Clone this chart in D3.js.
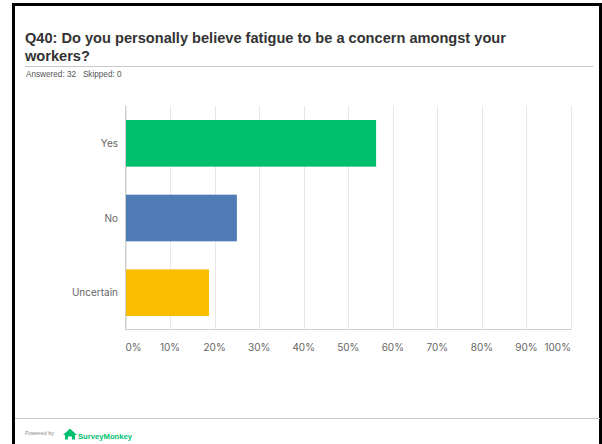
<!DOCTYPE html>
<html>
<head>
<meta charset="utf-8">
<script src="https://cdn.jsdelivr.net/npm/d3@7"></script>
<style>
  html, body { margin: 0; padding: 0; background: #fff; }
  svg { display: block; }
</style>
</head>
<body>
<script>
// Survey question results: share of respondents per answer
const categories = ["Yes", "No", "Uncertain"];
const percentValues = [56.25, 25.0, 18.75];
const barColors = ["#00BF6F", "#507CB6", "#F9BE00"];
const tickValues = [0, 10, 20, 30, 40, 50, 60, 70, 80, 90, 100];
const tickLabels = ["0%", "10%", "20%", "30%", "40%", "50%", "60%", "70%", "80%", "90%", "100%"];

const W = 602, H = 444;
const svg = d3.select("body").append("svg").attr("width", W).attr("height", H);

// Page frame
svg.append("rect").attr("x", 0).attr("y", 0).attr("width", W).attr("height", H).attr("fill", "#fff");
svg.append("rect")
  .attr("x", 13.5).attr("y", 4.5).attr("width", 587).attr("height", 460)
  .attr("fill", "none").attr("stroke", "#000").attr("stroke-width", 3);

// Title
const title = svg.append("text")
  .attr("x", 25).attr("y", 43)
  .attr("font-family", "Liberation Sans, Arial, sans-serif")
  .attr("font-weight", "bold").attr("font-size", 14.6).attr("fill", "#333");
title.append("tspan").attr("x", 25).attr("dy", 0).text("Q40: Do you personally believe fatigue to be a concern amongst your");
title.append("tspan").attr("x", 25).attr("dy", 17.5).text("workers?");

svg.append("line").attr("x1", 25).attr("x2", 593).attr("y1", 66.5).attr("y2", 66.5)
  .attr("stroke", "#c8c8c8").attr("stroke-width", 1);

svg.append("text").attr("x", 26).attr("y", 76.5)
  .attr("font-family", "Liberation Sans, Arial, sans-serif")
  .attr("font-size", 8.2).attr("fill", "#555")
  .text("Answered: 32\u00a0\u00a0\u00a0Skipped: 0");

// Scales
const x = d3.scaleLinear().domain([0, 100]).range([125.5, 571]);
const y = d3.scaleBand().domain(categories).range([106, 330])
  .paddingInner(0.375).paddingOuter(0.1875);

const chartFont = "Inter, Lato, sans-serif";

// Vertical gridlines
svg.append("g").selectAll("line").data(tickValues).join("line")
  .attr("x1", d => Math.round(x(d)) + 0.5).attr("x2", d => Math.round(x(d)) + 0.5)
  .attr("y1", 106).attr("y2", 330)
  .attr("stroke", "#e8e8e8").attr("stroke-width", 1);

// Bars
svg.append("g").selectAll("rect").data(categories).join("rect")
  .attr("x", x(0)).attr("y", d => y(d))
  .attr("width", (d, i) => x(percentValues[i]) - x(0))
  .attr("height", y.bandwidth())
  .attr("fill", (d, i) => barColors[i]);

// Axis lines
svg.append("line").attr("x1", 125.5).attr("x2", 125.5).attr("y1", 106).attr("y2", 330)
  .attr("stroke", "#cfcfcf");
svg.append("line").attr("x1", 125).attr("x2", 571.5).attr("y1", 329.5).attr("y2", 329.5)
  .attr("stroke", "#cfcfcf");

// Category labels
svg.append("g").selectAll("text").data(categories).join("text")
  .attr("x", 118).attr("y", d => y(d) + y.bandwidth() / 2)
  .attr("dy", "0.35em").attr("text-anchor", "end")
  .attr("font-family", chartFont).attr("font-size", 10).attr("fill", "#666")
  .text(d => d);

// Tick labels
svg.append("g").selectAll("text").data(tickValues).join("text")
  .attr("x", d => x(d))
  .attr("y", 347).attr("dy", "0.35em")
  .attr("text-anchor", (d, i) => i === 0 ? "start" : (i === tickValues.length - 1 ? "end" : "middle"))
  .attr("font-family", chartFont).attr("font-size", 10).attr("fill", "#666")
  .text((d, i) => tickLabels[i]);

// Footer
svg.append("line").attr("x1", 15).attr("x2", 600).attr("y1", 418.5).attr("y2", 418.5)
  .attr("stroke", "#c8c8c8");
svg.append("text").attr("x", 25).attr("y", 435)
  .attr("font-family", "Liberation Sans, Arial, sans-serif")
  .attr("font-size", 5.5).attr("fill", "#888").text("Powered by");

const logo = svg.append("g").attr("fill", "#00BF6F");
logo.append("path")
  .attr("d", "M63,435 L70,428.5 L77,435 L75,435 L75,439.5 L72,439.5 L72,436.5 L68,436.5 L68,439.5 L65,439.5 L65,435 Z");
logo.append("text").attr("x", 78).attr("y", 438.5)
  .attr("font-family", "Liberation Sans, Arial, sans-serif")
  .attr("font-weight", "bold").attr("font-size", 7.5)
  .attr("textLength", 54).attr("lengthAdjust", "spacingAndGlyphs")
  .text("SurveyMonkey");
</script>
</body>
</html>
